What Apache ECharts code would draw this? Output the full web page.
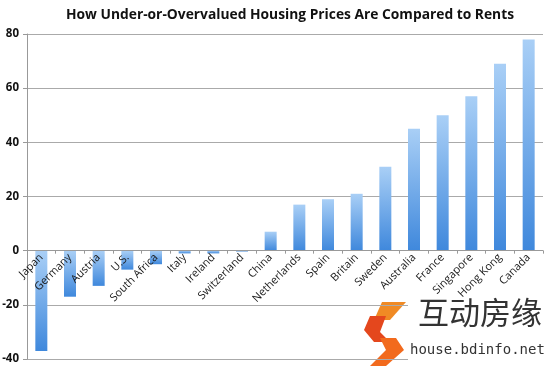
<!DOCTYPE html>
<html><head><meta charset="utf-8">
<script src="https://cdn.jsdelivr.net/npm/echarts@6/dist/echarts.min.js"></script>
<style>html,body{margin:0;padding:0;background:#fff}#c{width:550px;height:369px}</style>
</head><body><div id="c"></div>
<script>
const categories = ["Japan","Germany","Austria","U.S.","South Africa","Italy","Ireland","Switzerland","China","Netherlands","Spain","Britain","Sweden","Australia","France","Singapore","Hong Kong","Canada"];
const values = [-37,-17,-13,-7,-5,-1,-1,-0.3,7,17,19,21,31,45,50,57,69,78];
const yTicks = [-40,-20,0,20,40,60,80];
const title = "How Under-or-Overvalued Housing Prices Are Compared to Rents";

const gridTop = 34, gridBottom = 10, H = 369;
const plotH = H - gridTop - gridBottom;
const yMin = yTicks[0], yMax = yTicks[yTicks.length-1];
const zeroOffset = -plotH * (0 - yMin) / (yMax - yMin);

const chart = echarts.init(document.getElementById('c'));
chart.setOption({
  animation:false,
  title:{text:title,left:285,top:3,textAlign:'center',textStyle:{fontFamily:'Open Sans',fontWeight:'bold',fontSize:13.8,color:'#111'}},
  grid:{left:27,right:7,top:gridTop,bottom:gridBottom,containLabel:false,outerBoundsMode:'none'},
  xAxis:{type:'category',data:categories,position:'bottom',offset:zeroOffset,z:5,
    axisLine:{onZero:false,lineStyle:{color:'#999',width:1}},
    axisTick:{show:true,alignWithLabel:false,length:3,lineStyle:{color:'#999'}},
    axisLabel:{rotate:45,interval:0,fontFamily:'Open Sans',fontSize:11,color:'#1a1a1a',margin:5}},
  yAxis:{type:'value',min:yMin,max:yMax,interval:20,
    axisLine:{show:true,lineStyle:{color:'#999'}},
    axisTick:{show:true,length:4,lineStyle:{color:'#999'}},
    splitLine:{lineStyle:{color:'#aaa',width:1}},
    axisLabel:{fontFamily:'Open Sans',fontWeight:'bold',fontSize:11.5,color:'#111',margin:8}},
  series:[{type:'bar',data:values,barWidth:12,z:2,
    itemStyle:{color:new echarts.graphic.LinearGradient(0,0,0,1,[{offset:0,color:'#a9cff6'},{offset:1,color:'#3f88dc'}])}}],
  graphic:[
    {type:'rect',left:408,top:298,shape:{width:142,height:70},style:{fill:'#fff'},z:10},
    {type:'group',left:364,top:302,z:12,children:[
      {type:'polygon',shape:{points:[[22,0],[46,0],[30,18],[14,18]]},style:{fill:'#f08a24'}},
      {type:'polygon',shape:{points:[[10,14],[26,14],[20,30],[30,40],[14,40],[4,28]]},style:{fill:'#e4471d'}},
      {type:'polygon',shape:{points:[[20,36],[36,36],[44,48],[26,64],[10,64],[26,48]]},style:{fill:'#f26a1d'}}
    ]},
    {type:'text',left:418,top:297,z:11,style:{text:'互动房缘',font:'31px "Noto Sans CJK SC"',fill:'#333'}},
    {type:'text',left:410,top:343,z:11,style:{text:'house.bdinfo.net',font:'14px "DejaVu Sans Mono"',fill:'#333'}}
  ]
});
</script></body></html>
